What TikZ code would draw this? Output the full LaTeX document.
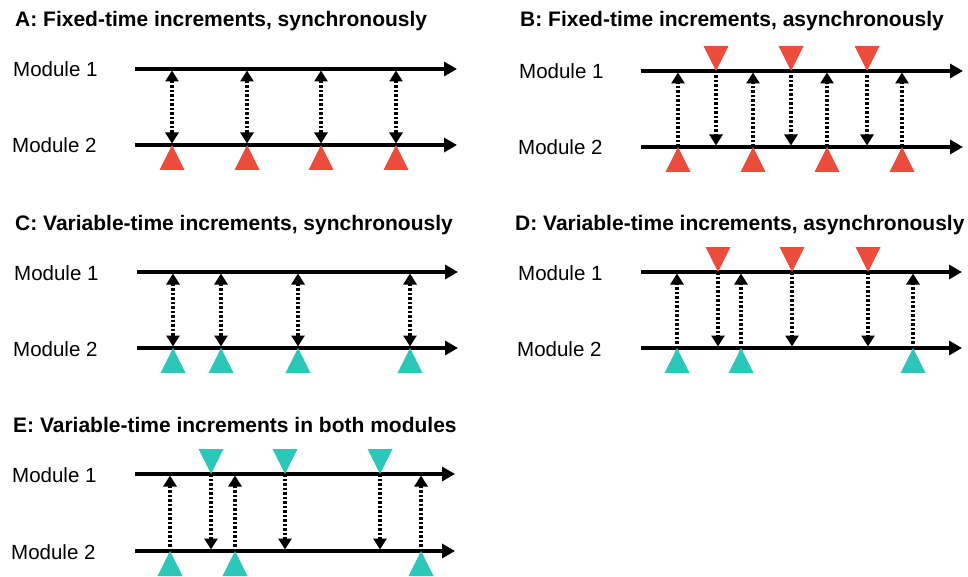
\documentclass[tikz,border=0pt]{standalone}
\usepackage{fontspec}
\setmainfont{Liberation Sans}
\usetikzlibrary{arrows.meta}
\definecolor{tickred}{HTML}{EB4C3B}
\definecolor{tickcyan}{HTML}{2CC7B9}
\tikzset{
  tickup/.pic={\fill[#1] (-12.5,25) -- (0,0) -- (12.5,25) -- cycle;},
  tickdown/.pic={\fill[#1] (-12.5,-25) -- (0,0) -- (12.5,-25) -- cycle;}
}
\begin{document}
\begin{tikzpicture}[x=1pt,y=-1pt,
  title/.style={font=\bfseries\fontsize{21}{24}\selectfont,anchor=base west,inner sep=0pt},
  modname/.style={font=\fontsize{20.5}{24}\selectfont,anchor=base west,inner sep=0pt},
  axis/.style={line width=3.5pt,-{Triangle[length=13pt,width=14pt]}},
  msg/.style={line width=3.5pt,dash pattern=on 2.5pt off 2pt,shorten >=1.5pt},
  sync/.style={msg,shorten <=1.5pt,{Triangle[length=11pt,width=13pt]}-{Triangle[length=11pt,width=13pt]}},
  send/.style={msg,-{Triangle[length=11pt,width=13pt]}}]
\useasboundingbox (0,0) rectangle (968,577);

% A
\node[title] (titleA) at (15,27) {A: Fixed-time increments, synchronously};
\node[modname] (modA1) at (13,77) {Module 1};
\node[modname] (modA2) at (12,153) {Module 2};
\coordinate (A1s) at (135,69); \coordinate (A1e) at (457,69);
\coordinate (A2s) at (135,145); \coordinate (A2e) at (457,145);
\draw[axis] (A1s) -- (A1e);
\draw[axis] (A2s) -- (A2e);
\foreach \x [count=\i] in {172,247,321,396} {
  \coordinate (A1t\i) at (\x,69); \coordinate (A2t\i) at (\x,145);
  \draw[sync] (A1t\i) -- (A2t\i);
  \pic at (A2t\i) {tickup=tickred};
}

% B
\node[title] (titleB) at (520,27) {B: Fixed-time increments, asynchronously};
\node[modname] (modB1) at (519,79) {Module 1};
\node[modname] (modB2) at (518,155) {Module 2};
\coordinate (B1s) at (641,71); \coordinate (B1e) at (963,71);
\coordinate (B2s) at (641,147); \coordinate (B2e) at (963,147);
\draw[axis] (B1s) -- (B1e);
\draw[axis] (B2s) -- (B2e);
\foreach \x [count=\i] in {678,753,827,902} {
  \coordinate (B1u\i) at (\x,71); \coordinate (B2u\i) at (\x,147);
  \draw[send] (B2u\i) -- (B1u\i);
  \pic at (B2u\i) {tickup=tickred};
}
\foreach \x [count=\i] in {716,791,867} {
  \coordinate (B1d\i) at (\x,71); \coordinate (B2d\i) at (\x,147);
  \draw[send] (B1d\i) -- (B2d\i);
  \pic at (B1d\i) {tickdown=tickred};
}

% C
\node[title] (titleC) at (15,230) {C: Variable-time increments, synchronously};
\node[modname] (modC1) at (14,280) {Module 1};
\node[modname] (modC2) at (13,356) {Module 2};
\coordinate (C1s) at (137,272); \coordinate (C1e) at (458,272);
\coordinate (C2s) at (137,348); \coordinate (C2e) at (458,348);
\draw[axis] (C1s) -- (C1e);
\draw[axis] (C2s) -- (C2e);
\foreach \x [count=\i] in {173,221,298,410} {
  \coordinate (C1t\i) at (\x,272); \coordinate (C2t\i) at (\x,348);
  \draw[sync] (C1t\i) -- (C2t\i);
  \pic at (C2t\i) {tickup=tickcyan};
}

% D
\node[title] (titleD) at (515,230) {D: Variable-time increments, asynchronously};
\node[modname] (modD1) at (518,280) {Module 1};
\node[modname] (modD2) at (517,356) {Module 2};
\coordinate (D1s) at (641,272); \coordinate (D1e) at (962,272);
\coordinate (D2s) at (641,348); \coordinate (D2e) at (962,348);
\draw[axis] (D1s) -- (D1e);
\draw[axis] (D2s) -- (D2e);
\foreach \x [count=\i] in {677,741,913} {
  \coordinate (D1u\i) at (\x,272); \coordinate (D2u\i) at (\x,348);
  \draw[send] (D2u\i) -- (D1u\i);
  \pic at (D2u\i) {tickup=tickcyan};
}
\foreach \x [count=\i] in {718,792,868} {
  \coordinate (D1d\i) at (\x,272); \coordinate (D2d\i) at (\x,348);
  \draw[send] (D1d\i) -- (D2d\i);
  \pic at (D1d\i) {tickdown=tickred};
}

% E
\node[title] (titleE) at (13,432) {E: Variable-time increments in both modules};
\node[modname] (modE1) at (12,482) {Module 1};
\node[modname] (modE2) at (11,559) {Module 2};
\coordinate (E1s) at (135,474); \coordinate (E1e) at (455,474);
\coordinate (E2s) at (135,551); \coordinate (E2e) at (455,551);
\draw[axis] (E1s) -- (E1e);
\draw[axis] (E2s) -- (E2e);
\foreach \x [count=\i] in {170,235,421} {
  \coordinate (E1u\i) at (\x,474); \coordinate (E2u\i) at (\x,551);
  \draw[send] (E2u\i) -- (E1u\i);
  \pic at (E2u\i) {tickup=tickcyan};
}
\foreach \x [count=\i] in {211,285,380} {
  \coordinate (E1d\i) at (\x,474); \coordinate (E2d\i) at (\x,551);
  \draw[send] (E1d\i) -- (E2d\i);
  \pic at (E1d\i) {tickdown=tickcyan};
}
\end{tikzpicture}
\end{document}
